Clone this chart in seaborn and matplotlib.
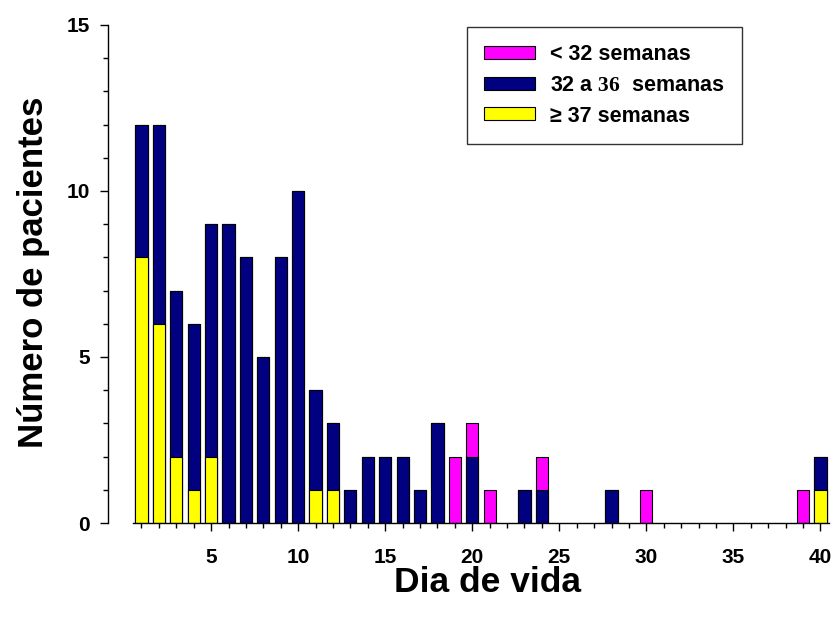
import matplotlib
matplotlib.use("Agg")
import matplotlib.pyplot as plt
import seaborn as sns
import pandas as pd
from matplotlib.patches import Patch
from matplotlib.ticker import MultipleLocator

days = list(range(1, 41))
ge37 = [8, 6, 2, 1, 2, 0, 0, 0, 0, 0, 1, 1, 0, 0, 0, 0, 0, 0, 0, 0,
        0, 0, 0, 0, 0, 0, 0, 0, 0, 0, 0, 0, 0, 0, 0, 0, 0, 0, 0, 1]
w32_36 = [4, 6, 5, 5, 7, 9, 8, 5, 8, 10, 3, 2, 1, 2, 2, 2, 1, 3, 0, 2,
          0, 0, 1, 1, 0, 0, 0, 1, 0, 0, 0, 0, 0, 0, 0, 0, 0, 0, 0, 1]
lt32 = [0, 0, 0, 0, 0, 0, 0, 0, 0, 0, 0, 0, 0, 0, 0, 0, 0, 0, 2, 1,
        1, 0, 0, 1, 0, 0, 0, 0, 0, 1, 0, 0, 0, 0, 0, 0, 0, 0, 1, 0]
x_ticks = [5, 10, 15, 20, 25, 30, 35, 40]
y_ticks = [0, 5, 10, 15]
labels = ["< 32 semanas", "32 a $\\mathrm{36}$  semanas", "\u2265 37 semanas"]
colors = ["#FF00FF", "#000080", "#FFFF00"]

df = pd.DataFrame({"dia": days, "ge37": ge37, "w32_36": w32_36, "lt32": lt32})
df["top2"] = df["ge37"] + df["w32_36"]
df["top3"] = df["top2"] + df["lt32"]

sns.set_theme(style="white")
plt.rcParams.update({
    "font.family": ["Liberation Sans", "DejaVu Sans"],
    "font.weight": "bold",
    "text.color": "black",
    "axes.labelcolor": "black",
    "xtick.color": "black",
    "ytick.color": "black",
    "mathtext.fontset": "custom",
    "mathtext.rm": "Liberation Serif",
})

fig = plt.figure(figsize=(8.35, 6.23), dpi=100)
ax = fig.add_axes([0.159, 0.1605, 0.834, 0.7995])

layers = [("top3", colors[0]), ("top2", colors[1]), ("ge37", colors[2])]
for col, c in layers:
    sub = df[df[col] > 0]
    sns.barplot(data=sub, x="dia", y=col, native_scale=True, color=c,
                saturation=1, width=0.7, edgecolor="black", linewidth=0.8,
                ax=ax, errorbar=None)

ax.set_xlim(0.5, 40.5)
ax.set_ylim(0, 15)
ax.set_xticks(x_ticks)
ax.set_xticklabels([str(v) for v in x_ticks])
ax.set_yticks(y_ticks)
ax.set_yticklabels([str(v) for v in y_ticks])
ax.xaxis.set_minor_locator(MultipleLocator(1))
ax.yaxis.set_minor_locator(MultipleLocator(1))

for s in ["top", "right"]:
    ax.spines[s].set_visible(False)
ax.spines["left"].set_position(("outward", 18))
for s in ["left", "bottom"]:
    ax.spines[s].set_color("black")
    ax.spines[s].set_linewidth(1.0)

ax.tick_params(which="major", direction="out", length=6, width=1, color="black",
               labelsize=15, bottom=True, left=True)
ax.tick_params(which="minor", direction="out", length=3.5, width=1, color="black",
               bottom=True, left=True)
ax.tick_params(axis="x", which="major", pad=12)
ax.tick_params(axis="y", which="major", pad=7)
for lab in ax.get_xticklabels() + ax.get_yticklabels():
    lab.set_fontweight("bold")
    lab.set_color("black")

ax.set_xlabel("Dia de vida", fontsize=25.5, fontweight="bold")
ax.set_ylabel("Número de pacientes", fontsize=25, fontweight="bold")
ax.xaxis.set_label_coords(0.509, -0.087)
ax.yaxis.set_label_coords(-0.1185, 0.504)

handles = [Patch(facecolor=c, edgecolor="black", linewidth=0.8) for c in colors]
leg = ax.legend(handles, labels, loc="upper left", bbox_to_anchor=(0.48, 0.996),
                handlelength=2.37, handleheight=0.56, handletextpad=0.7,
                labelspacing=0.45, borderpad=0.8, borderaxespad=0,
                fancybox=False, framealpha=1, edgecolor="#333333",
                prop={"weight": "bold", "size": 15.5})
leg.get_frame().set_linewidth(1.0)
for t in leg.get_texts():
    t.set_color("black")

fig.savefig("out.png", dpi=100)
